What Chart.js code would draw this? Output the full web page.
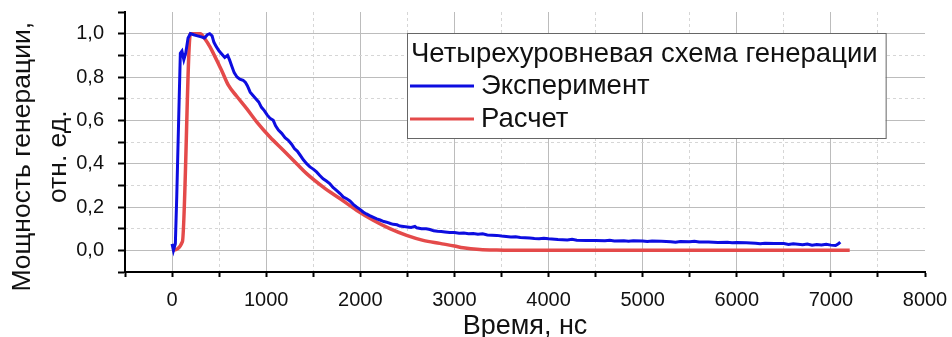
<!DOCTYPE html>
<html lang="ru">
<head>
<meta charset="UTF-8">
<title>Четырехуровневая схема генерации</title>
<script src="https://cdn.jsdelivr.net/npm/chart.js"></script>
<style>
  html, body { margin: 0; padding: 0; background: #fff; }
  #wrap { width: 952px; height: 337px; }
</style>
</head>
<body>
<div id="wrap"><canvas id="myChart"></canvas></div>
<script>
// Эксперимент
var expTime = [0, 15, 35, 50, 70, 88, 105, 125, 145, 170, 195, 230, 270, 310, 345, 375, 400, 425, 445, 470,
  500, 530, 560, 590, 610, 635, 660, 690, 720, 755, 780, 800, 830, 860, 890, 920, 950, 980, 1010, 1040,
  1075, 1100, 1130, 1165, 1200, 1235, 1270, 1300, 1330, 1360, 1395, 1430, 1465, 1500, 1535, 1570, 1605, 1640, 1675, 1710,
  1750, 1785, 1820, 1855, 1890, 1925, 1960, 2000, 2030, 2065, 2100, 2140, 2175, 2210, 2250, 2280, 2320, 2350, 2390, 2420,
  2460, 2500, 2540, 2580, 2600, 2650, 2700, 2740, 2780, 2820, 2860, 2900, 2950, 3000, 3050, 3100, 3150, 3200, 3250, 3300,
  3350, 3400, 3450, 3500, 3550, 3600, 3650, 3700, 3750, 3800, 3850, 3900, 3950, 4000, 4100, 4200, 4250, 4300, 4400, 4500,
  4600, 4650, 4700, 4800, 4850, 4900, 5000, 5050, 5100, 5200, 5300, 5350, 5400, 5500, 5550, 5600, 5700, 5800, 5900, 5950,
  6000, 6100, 6200, 6250, 6300, 6400, 6500, 6550, 6600, 6700, 6750, 6800, 6850, 6900, 6950, 7000, 7050, 7080, 7100];
var expPower = [0.03, 0.0, 0.03, 0.25, 0.6, 0.91, 0.92, 0.88, 0.91, 0.98, 1.0, 0.995, 0.99, 0.985, 0.98, 0.995, 1.0, 0.99, 0.96, 0.94,
  0.92, 0.905, 0.89, 0.9, 0.88, 0.85, 0.82, 0.8, 0.79, 0.785, 0.775, 0.76, 0.73, 0.715, 0.70, 0.685, 0.66, 0.645, 0.625, 0.61,
  0.6, 0.575, 0.555, 0.54, 0.52, 0.508, 0.49, 0.47, 0.458, 0.44, 0.418, 0.4, 0.385, 0.375, 0.362, 0.345, 0.33, 0.32, 0.308, 0.29,
  0.276, 0.262, 0.246, 0.238, 0.228, 0.212, 0.2, 0.188, 0.177, 0.168, 0.16, 0.152, 0.145, 0.14, 0.133, 0.13, 0.124, 0.12, 0.118, 0.112,
  0.11, 0.108, 0.106, 0.111, 0.104, 0.1, 0.1, 0.096, 0.09, 0.088, 0.087, 0.085, 0.082, 0.082, 0.079, 0.08, 0.077, 0.078, 0.074, 0.076,
  0.071, 0.07, 0.069, 0.066, 0.064, 0.062, 0.063, 0.059, 0.058, 0.057, 0.055, 0.054, 0.056, 0.053, 0.05, 0.048, 0.051, 0.047, 0.045, 0.045,
  0.044, 0.046, 0.043, 0.044, 0.042, 0.044, 0.043, 0.041, 0.043, 0.042, 0.040, 0.037, 0.041, 0.040, 0.042, 0.039, 0.038, 0.036, 0.037, 0.035,
  0.036, 0.035, 0.033, 0.030, 0.033, 0.032, 0.031, 0.027, 0.030, 0.026, 0.029, 0.024, 0.027, 0.025, 0.028, 0.024, 0.022, 0.030, 0.038];

// Расчет
var calcTime = [0, 110, 195, 300, 350, 403, 440, 527, 598, 687, 793, 899, 1040, 1182, 1324, 1430, 1606, 1783, 1960, 2137,
  2314, 2492, 2668, 2845, 3000, 3093, 3270, 3450, 3600, 7200];
var calcPower = [0.0, 0.04, 1.0, 1.0, 0.975, 0.939, 0.908, 0.83, 0.762, 0.711, 0.654, 0.593, 0.523, 0.462, 0.40, 0.354, 0.292, 0.239, 0.185, 0.139,
  0.10, 0.069, 0.046, 0.032, 0.02, 0.012, 0.004, 0.001, 0.0, 0.0];

// деления осей (основные + промежуточные)
var xTickValues = [-500, 0, 500, 1000, 1500, 2000, 2500, 3000, 3500, 4000, 4500, 5000, 5500, 6000, 6500, 7000, 7500, 8000];
var yTickValues = [-0.1, 0.0, 0.1, 0.2, 0.3, 0.4, 0.5, 0.6, 0.7, 0.8, 0.9, 1.0, 1.1];

var seriesNames = ['Эксперимент', 'Расчет'];
var legendTitle = 'Четырехуровневая схема генерации';
var xTitle = 'Время, нс';
var yTitle = ['Мощность генерации,\u00a0\u00a0\u00a0\u00a0', 'отн. ед.\u00a0\u00a0\u00a0\u00a0'];

function toPoints(xs, ys) {
  var pts = [];
  for (var i = 0; i < xs.length; i++) pts.push({ x: xs[i], y: ys[i] });
  return pts;
}
function setTicks(values) {
  return function (s) { s.ticks = values.map(function (v) { return { value: v }; }); };
}

Chart.defaults.font.family = "'Liberation Sans', Arial, sans-serif";
Chart.defaults.color = '#111';

// рамка с легендой внутри графика
var boxLegend = {
  id: 'boxLegend',
  afterDraw: function (chart) {
    var ctx = chart.ctx;
    var xs = chart.scales.x, ys = chart.scales.y;
    var left = Math.round(xs.getPixelForValue(2500));
    var top = Math.round(ys.getPixelForValue(1.0)) - 1;
    ctx.save();
    ctx.font = "27.5px 'Liberation Sans', Arial, sans-serif";
    var w = ctx.measureText(legendTitle).width + 12;
    var h = 105;
    ctx.fillStyle = '#fff';
    ctx.fillRect(left, top, w, h);
    ctx.strokeStyle = '#666';
    ctx.lineWidth = 1;
    ctx.strokeRect(left + 0.5, top + 0.5, w, h);
    ctx.fillStyle = '#111';
    ctx.textBaseline = 'middle';
    ctx.fillText(legendTitle, left + 4, top + 21);
    chart.data.datasets.forEach(function (ds, i) {
      var cy = top + 53 + i * 33;
      ctx.strokeStyle = ds.borderColor;
      ctx.lineWidth = 3;
      ctx.beginPath();
      ctx.moveTo(left + 3, cy);
      ctx.lineTo(left + 67, cy);
      ctx.stroke();
      ctx.fillText(ds.label, left + 74, cy);
    });
    ctx.restore();
  }
};

var isMajorX = function (v) { return Math.round(v) % 1000 === 0; };
var isMajorY = function (v) { return Math.round(v * 10) % 2 === 0; };
var tickVal = function (c) { return c.tick ? c.tick.value : 0; };

var ctx = document.getElementById('myChart').getContext('2d');
var chart = new Chart(ctx, {
  type: 'line',
  data: {
    datasets: [{
      label: seriesNames[0],
      data: toPoints(expTime, expPower),
      borderColor: '#0d0de0',
      borderWidth: 3,
      pointRadius: 0,
      tension: 0,
      fill: false
    }, {
      label: seriesNames[1],
      data: toPoints(calcTime, calcPower),
      borderColor: '#e44a4a',
      borderWidth: 3.5,
      pointRadius: 0,
      cubicInterpolationMode: 'monotone',
      fill: false
    }]
  },
  options: {
    responsive: true,
    maintainAspectRatio: false,
    animation: false,
    layout: { padding: { top: 12, right: 27, left: 0, bottom: 0 } },
    plugins: { legend: { display: false }, tooltip: { enabled: false } },
    scales: {
      x: {
        type: 'linear',
        min: -500, max: 8000,
        afterBuildTicks: setTicks(xTickValues),
        afterFit: function (s) { s.height = 65; s.paddingLeft = 0; s.paddingRight = 0; },
        ticks: {
          autoSkip: false, maxRotation: 0, padding: 11,
          font: { size: 20 },
          callback: function (v) { return (v >= 0 && isMajorX(v)) ? String(v) : ''; }
        },
        grid: {
          color: function (c) { var v = tickVal(c); return (isMajorX(v) && v < 8000) ? '#bcbcbc' : 'rgba(0,0,0,0)'; },
          tickColor: '#000', tickLength: 5, tickWidth: 2
        },
        border: { color: '#000', width: 2 },
        title: { display: true, text: xTitle, font: { size: 27, lineHeight: 0.8 }, padding: 0 }
      },
      x2: {
        type: 'linear', position: 'bottom',
        min: -500, max: 8000,
        afterBuildTicks: setTicks(xTickValues),
        afterFit: function (s) { s.height = 0; s.paddingLeft = 0; s.paddingRight = 0; },
        ticks: { display: false },
        grid: {
          drawTicks: false,
          color: function (c) { var v = tickVal(c); return isMajorX(v) ? 'rgba(0,0,0,0)' : '#d6d6d6'; }
        },
        border: { display: false, dash: [3, 3] }
      },
      y: {
        min: -0.1, max: 1.1,
        afterBuildTicks: setTicks(yTickValues),
        afterFit: function (s) { s.width = 125; s.paddingTop = 0; s.paddingBottom = 0; },
        ticks: {
          autoSkip: false, padding: 14,
          font: { size: 20 },
          callback: function (v) { return (v >= 0 && v <= 1.0001 && isMajorY(v)) ? v.toFixed(1).replace('.', ',') : ''; }
        },
        grid: {
          color: function (c) { var v = tickVal(c); return (isMajorY(v) && v > -0.05 && v < 1.05) ? '#bcbcbc' : 'rgba(0,0,0,0)'; },
          tickColor: '#000', tickLength: 7, tickWidth: 2
        },
        border: { color: '#000', width: 2 },
        title: { display: true, text: yTitle, font: { size: 26.5, lineHeight: 1.38 }, padding: { top: 4, bottom: 0 } }
      },
      y2: {
        position: 'left',
        min: -0.1, max: 1.1,
        afterBuildTicks: setTicks(yTickValues),
        afterFit: function (s) { s.width = 0; s.paddingTop = 0; s.paddingBottom = 0; },
        ticks: { display: false },
        grid: {
          drawTicks: false,
          color: function (c) { var v = tickVal(c); return (!isMajorY(v) && v > 0 && v < 1.05) ? '#d6d6d6' : 'rgba(0,0,0,0)'; }
        },
        border: { display: false, dash: [3, 3] }
      }
    }
  },
  plugins: [boxLegend]
});
</script>
</body>
</html>
